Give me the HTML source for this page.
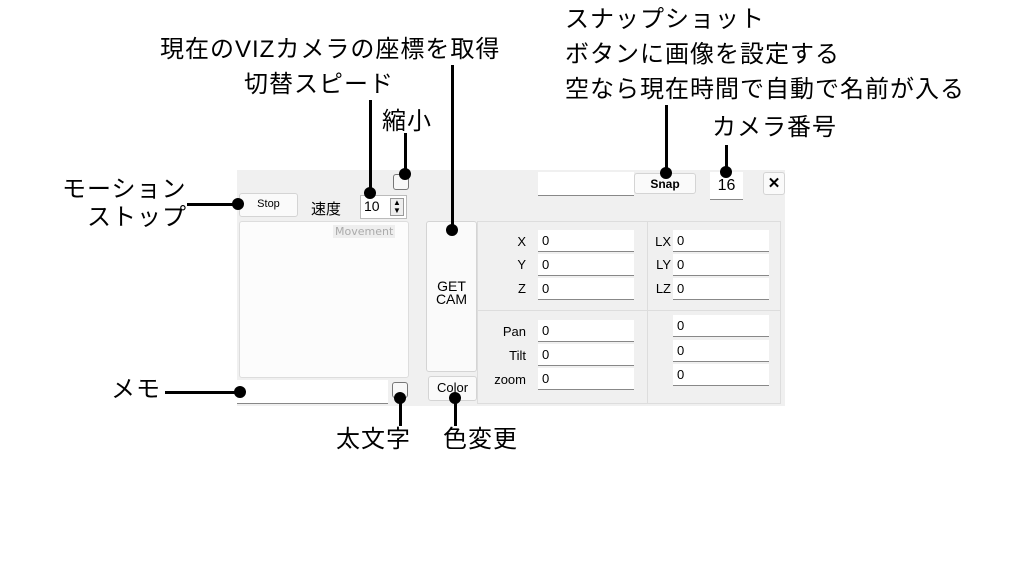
<!DOCTYPE html>
<html><head><meta charset="utf-8"><style>
body{margin:0;width:1024px;height:576px;background:#fff;position:relative;overflow:hidden;font-family:"Liberation Sans","Noto Sans CJK JP",sans-serif}
.a{position:absolute;white-space:nowrap}
.t{font-size:24px;line-height:24px;color:#000;letter-spacing:1px}
.b{position:absolute;box-sizing:border-box}
.fld{position:absolute;background:#fff;border-bottom:1px solid #888;box-sizing:border-box;height:22px;width:96px;font-size:13px;padding:3px 0 0 4px;font-family:"Liberation Sans Narrow","Liberation Sans",sans-serif}
.btn{position:absolute;background:#fafafa;border:1px solid #d4d4d4;border-radius:3px;box-sizing:border-box;font-size:12px;text-align:center}
.lb{position:absolute;font-size:13px;text-align:right;width:40px}
.ln{position:absolute;background:#000}
.dot{position:absolute;width:12px;height:12px;border-radius:6px;background:#000}
</style></head><body>
<div class="b" style="left:237px;top:170px;width:548px;height:236px;background:#f0f0f0"></div>
<div class="btn" style="left:239px;top:193px;width:59px;height:24px;padding-top:4px;font-size:11px">Stop</div>
<div class="a" style="left:311px;top:198px;font-size:15px">速度</div>
<div class="b" style="left:360px;top:195px;width:47px;height:24px;background:#fff;border:1px solid #bbb;font-size:14px;padding:2px 0 0 3px;font-family:'Liberation Sans Narrow',sans-serif">10</div>
<div class="b" style="left:390px;top:198px;width:14px;height:18px;border:1px solid #999;background:#eee;font-size:8px;line-height:8px;text-align:center">▲<br>▼</div>
<div class="b" style="left:393px;top:174px;width:16px;height:16px;border:1px solid #777;border-radius:3px;background:#f8f8f8"></div>
<div class="b" style="left:239px;top:221px;width:170px;height:157px;background:#fcfcfc;border:1px solid #ddd;border-radius:3px"></div>
<div class="a" style="left:333px;top:225px;font-size:11px;color:#aaa;background:#eee;padding:0 2px;font-family:'DejaVu Sans',sans-serif">Movement</div>
<div class="btn" style="left:426px;top:221px;width:51px;height:151px;padding-top:58px;font-size:14px;line-height:13px">GET<br>CAM</div>
<div class="b" style="left:237px;top:380px;width:151px;height:24px;background:#fff;border-bottom:1px solid #888"></div>
<div class="b" style="left:392px;top:382px;width:16px;height:16px;border:1px solid #777;border-radius:3px;background:#f8f8f8"></div>
<div class="btn" style="left:428px;top:376px;width:49px;height:25px;padding-top:3px;font-size:13px">Color</div>
<div class="fld" style="left:538px;top:172px;height:24px;width:96px"></div>
<div class="btn" style="left:634px;top:173px;width:62px;height:21px;padding-top:3px;font-weight:bold;font-size:12px">Snap</div>
<div class="b" style="left:710px;top:172px;width:33px;height:28px;background:#fff;border-bottom:1px solid #888;font-size:16px;text-align:center;padding-top:5px">16</div>
<div class="btn" style="left:763px;top:172px;width:22px;height:23px;font-size:15px;font-weight:bold;padding-top:1px">✕</div>
<div class="b" style="left:477px;top:221px;width:304px;height:183px;border:1px solid #ddd"></div>
<div class="ln" style="left:647px;top:221px;width:1px;height:183px;background:#ddd"></div>
<div class="ln" style="left:477px;top:310px;width:304px;height:1px;background:#ddd"></div>
<div class="lb" style="left:486px;top:234px">X</div><div class="fld" style="left:538px;top:230px">0</div>
<div class="lb" style="left:486px;top:257px">Y</div><div class="fld" style="left:538px;top:254px">0</div>
<div class="lb" style="left:486px;top:281px">Z</div><div class="fld" style="left:538px;top:278px">0</div>
<div class="lb" style="left:631px;top:234px">LX</div><div class="fld" style="left:673px;top:230px">0</div>
<div class="lb" style="left:631px;top:257px">LY</div><div class="fld" style="left:673px;top:254px">0</div>
<div class="lb" style="left:631px;top:281px">LZ</div><div class="fld" style="left:673px;top:278px">0</div>
<div class="lb" style="left:486px;top:324px">Pan</div><div class="fld" style="left:538px;top:320px">0</div>
<div class="lb" style="left:486px;top:348px">Tilt</div><div class="fld" style="left:538px;top:344px">0</div>
<div class="lb" style="left:486px;top:372px">zoom</div><div class="fld" style="left:538px;top:368px">0</div>
<div class="fld" style="left:673px;top:315px">0</div>
<div class="fld" style="left:673px;top:340px">0</div>
<div class="fld" style="left:673px;top:364px">0</div>
<div class="a t" style="left:160px;top:38px">現在のVIZカメラの座標を取得</div>
<div class="a t" style="left:244px;top:73px">切替スピード</div>
<div class="a t" style="left:382px;top:110px">縮小</div>
<div class="a t" style="left:565px;top:8px">スナップショット</div>
<div class="a t" style="left:565px;top:43px">ボタンに画像を設定する</div>
<div class="a t" style="left:565px;top:78px">空なら現在時間で自動で名前が入る</div>
<div class="a t" style="left:712px;top:116px">カメラ番号</div>
<div class="a t" style="left:62px;top:178px">モーション</div>
<div class="a t" style="left:87px;top:206px">ストップ</div>
<div class="a t" style="left:111px;top:378px">メモ</div>
<div class="a t" style="left:336px;top:428px">太文字</div>
<div class="a t" style="left:443px;top:428px">色変更</div>
<div class="ln" style="left:451px;top:65px;width:3px;height:165px"></div><div class="dot" style="left:446px;top:224px"></div>
<div class="ln" style="left:369px;top:100px;width:3px;height:93px"></div><div class="dot" style="left:364px;top:187px"></div>
<div class="ln" style="left:404px;top:133px;width:3px;height:41px"></div><div class="dot" style="left:399px;top:168px"></div>
<div class="ln" style="left:665px;top:105px;width:3px;height:68px"></div><div class="dot" style="left:660px;top:167px"></div>
<div class="ln" style="left:725px;top:145px;width:3px;height:27px"></div><div class="dot" style="left:720px;top:166px"></div>
<div class="ln" style="left:187px;top:203px;width:50px;height:3px"></div><div class="dot" style="left:232px;top:198px"></div>
<div class="ln" style="left:165px;top:391px;width:75px;height:3px"></div><div class="dot" style="left:234px;top:386px"></div>
<div class="ln" style="left:399px;top:398px;width:3px;height:28px"></div><div class="dot" style="left:394px;top:392px"></div>
<div class="ln" style="left:454px;top:398px;width:3px;height:28px"></div><div class="dot" style="left:449px;top:392px"></div>
</body></html>
